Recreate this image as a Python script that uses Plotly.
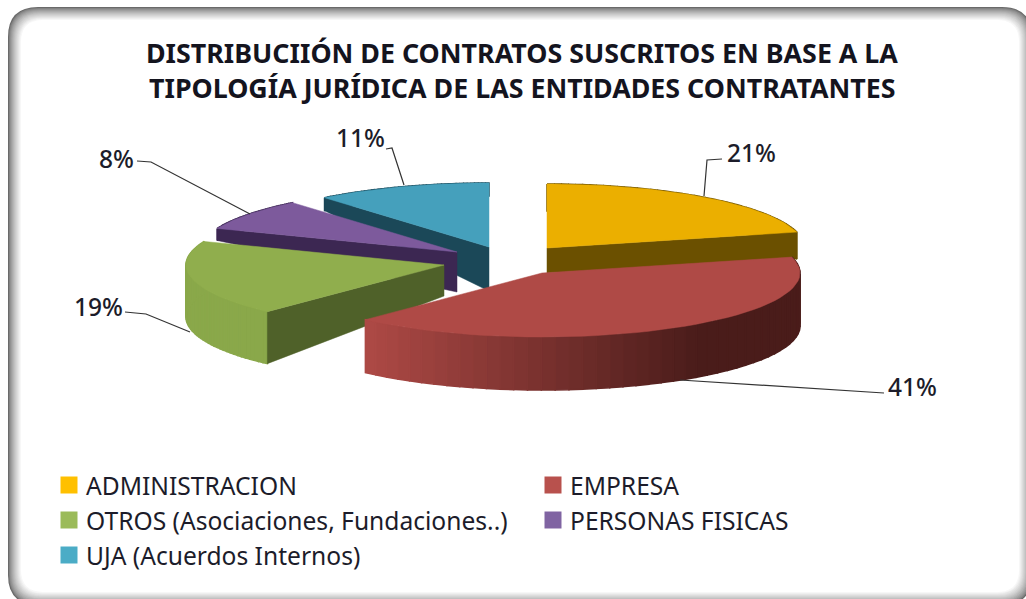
import math
import plotly.graph_objects as go

# ---- data ----
categories = ["ADMINISTRACION", "EMPRESA", "OTROS (Asociaciones, Fundaciones..)", "PERSONAS FISICAS", "UJA (Acuerdos Internos)"]
shares = [21, 41, 19, 8, 11]
title_lines = ["DISTRIBUCIIÓN DE CONTRATOS SUSCRITOS EN BASE A LA", "TIPOLOGÍA JURÍDICA DE LAS ENTIDADES CONTRATANTES"]

# ---- styling ----
top_colors = ["#EBAF00", "#AF4A46", "#90AE4D", "#7D5A9C", "#45A0BC"]
cut_colors = ["#6B5000", "#7A3230", "#4F6129", "#3C2752", "#1B4858"]
swatch_colors = ["#FFC000", "#B8514D", "#9BBB59", "#8064A2", "#4BACC6"]
rim_colors = ["#6B5000", None, "#8AA84A", "#3C2752", "#1B4858"]
apex_x = [547, 542, 444, 457, 489]
apex_y = [248, 273, 265, 252, 247]
depth_apex = [25, 53, 31, 40, 44]
depth_rim = [27, 53, 52, 12, 13]
cut_edge = ["end", None, "start", "start", "start"]
draw_order = [0, 4, 3, 2, 1]
RX, RY = 258, 64
FONT = "Noto Sans"
TEXT = "#1c1c2a"

label_pos = [(751, 152), (912, 386), (98, 306), (116, 158), (360, 137)]
leaders = [
    [(722, 159), (707, 160), (704, 196)],
    [(884, 393), (680, 380)],
    [(125, 312), (146, 314), (190, 332)],
    [(137, 161), (151, 162), (250, 214)],
    [(386, 149), (392, 148), (404, 185)],
]
legend_pos = [(69, 485), (553, 485), (69, 520), (553, 520), (69, 555)]


def rim_pt(i, turn, dy=0.0):
    a = 2 * math.pi * turn
    return apex_x[i] + RX * math.sin(a), apex_y[i] - RY * math.cos(a) + dy


def mix(c1, c2, t):
    a = [int(c1[k:k + 2], 16) for k in (1, 3, 5)]
    b = [int(c2[k:k + 2], 16) for k in (1, 3, 5)]
    return "#%02x%02x%02x" % tuple(round(p + (q - p) * t) for p, q in zip(a, b))


def poly(pts, color, lw=0.5):
    xs = [p[0] for p in pts] + [pts[0][0]]
    ys = [p[1] for p in pts] + [pts[0][1]]
    return go.Scatter(x=xs, y=ys, mode="lines", fill="toself", fillcolor=color,
                      line=dict(color=color, width=lw), hoverinfo="skip", showlegend=False)


fig = go.Figure()
total = sum(shares)
starts, c = [], 0.0
for v in shares:
    starts.append(c)
    c += v / total

for i in draw_order:
    t0, t1 = starts[i], starts[i] + shares[i] / total
    n = 48
    turns = [t0 + (t1 - t0) * k / n for k in range(n + 1)]
    d = depth_rim[i]
    # rim in strips; the red slice is shaded dark to the right
    for k in range(n):
        p, q = turns[k], turns[k + 1]
        pts = [rim_pt(i, p), rim_pt(i, q), rim_pt(i, q, d), rim_pt(i, p, d)]
        if rim_colors[i] is None:
            s = (pts[0][0] - 366) / (800 - 366)
            col = mix("#AF4A46", "#4A1C1A", min(1, max(0, s / 0.78)))
        else:
            col = rim_colors[i]
        fig.add_trace(poly(pts, col, lw=1.5))
    # radial cut face
    if cut_edge[i]:
        t = t0 if cut_edge[i] == "start" else t1
        ax, ay = apex_x[i], apex_y[i]
        fig.add_trace(poly([(ax, ay), rim_pt(i, t), rim_pt(i, t, d), (ax, ay + depth_apex[i])], cut_colors[i]))
    # top surface
    fig.add_trace(poly([(apex_x[i], apex_y[i])] + [rim_pt(i, t) for t in turns], top_colors[i]))

# leader lines
for path in leaders:
    fig.add_trace(go.Scatter(x=[p[0] for p in path], y=[p[1] for p in path], mode="lines",
                             line=dict(color="#333333", width=1.2), hoverinfo="skip", showlegend=False))

# legend swatches
fig.add_trace(go.Scatter(x=[p[0] for p in legend_pos], y=[p[1] for p in legend_pos], mode="markers",
                         marker=dict(symbol="square", size=17, color=swatch_colors, line=dict(width=0)),
                         hoverinfo="skip", showlegend=False))

annotations = []
for line, y in zip(title_lines, (52, 87)):
    annotations.append(dict(x=522, y=y, text=f"<b>{line}</b>", showarrow=False, xanchor="center", yanchor="middle",
                            xref="x", yref="y", font=dict(family=FONT, size=26.8, color="#14141e")))
for (x, y), v in zip(label_pos, shares):
    annotations.append(dict(x=x, y=y, text=f"{v}%", showarrow=False, xanchor="center", yanchor="middle",
                            xref="x", yref="y", font=dict(family=FONT, size=24.5, color=TEXT, weight=500)))
for (x, y), name in zip(legend_pos, categories):
    annotations.append(dict(x=x + 15, y=y, text=name, showarrow=False, xanchor="left", yanchor="middle",
                            xref="x", yref="y", font=dict(family=FONT, size=24.6, color=TEXT)))

# soft rounded frame
shapes = []
steps = 14
for k in range(steps):
    inset = k
    g = mix("#6a6a6a", "#ffffff", (k / (steps - 1)) ** 0.7)
    x0, y0, x1, y1, r = 8 + inset, 7 + inset, 1032 - inset, 605 - inset, max(6, 30 - inset * 0.6)
    path = (f"M{x0 + r},{y0} L{x1 - r},{y0} Q{x1},{y0} {x1},{y0 + r} L{x1},{y1 - r} Q{x1},{y1} {x1 - r},{y1} "
            f"L{x0 + r},{y1} Q{x0},{y1} {x0},{y1 - r} L{x0},{y0 + r} Q{x0},{y0} {x0 + r},{y0} Z")
    shapes.append(dict(type="path", path=path, xref="x", yref="y", fillcolor=g, line=dict(width=0), layer="below"))

fig.update_layout(
    width=1026, height=599, margin=dict(l=0, r=0, t=0, b=0),
    paper_bgcolor="white", plot_bgcolor="white", showlegend=False,
    xaxis=dict(range=[0, 1026], visible=False, fixedrange=True),
    yaxis=dict(range=[599, 0], visible=False, fixedrange=True),
    shapes=shapes, annotations=annotations,
)
fig.write_html("out.html", config={"displayModeBar": False},
               post_script="document.body.style.margin='0';document.documentElement.style.overflow='hidden';")
